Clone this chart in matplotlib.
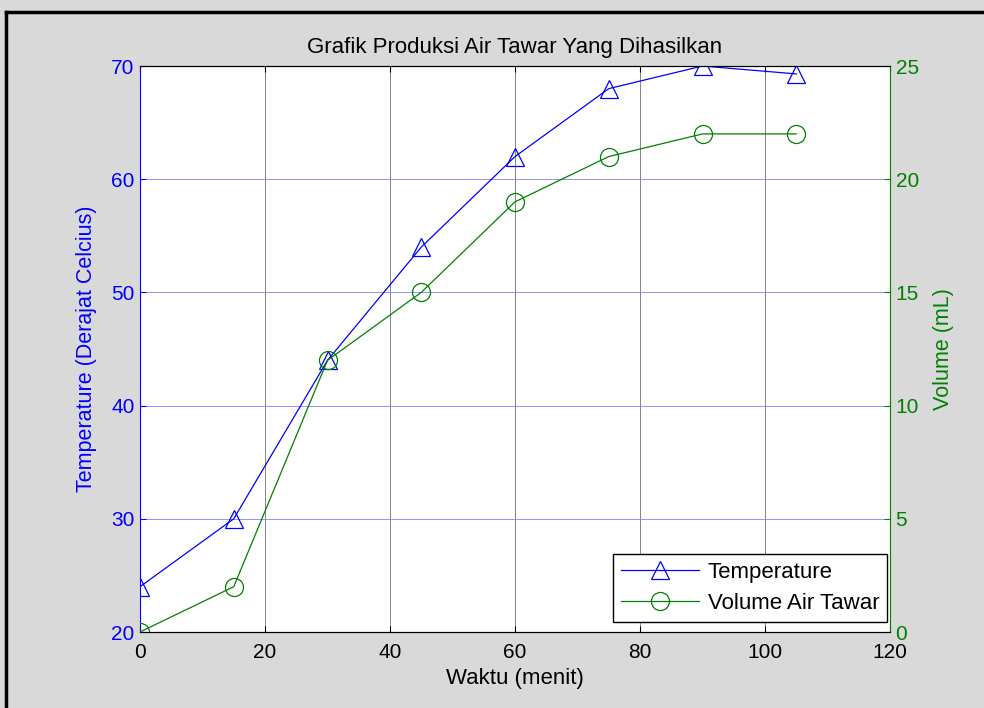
import matplotlib.pyplot as plt

plt.rcParams['font.family'] = ['Liberation Sans', 'DejaVu Sans']

# data
waktu = [0, 15, 30, 45, 60, 75, 90, 105]
temperature = [24, 30, 44, 54, 62, 68, 70, 69.3]
volume = [0, 2, 12, 15, 19, 21, 22, 22]
xticks = [0, 20, 40, 60, 80, 100, 120]
temp_ticks = [20, 30, 40, 50, 60, 70]
vol_ticks = [0, 5, 10, 15, 20, 25]

bg = '#d9d9d9'
fig = plt.figure(figsize=(9.84, 7.08), dpi=100, facecolor=bg)

# black frame of the original figure
fig.add_artist(plt.Line2D([0.006, 0.006], [0, 0.983], color='black', lw=2.5))
fig.add_artist(plt.Line2D([0.006, 1.0], [0.983, 0.983], color='black', lw=2.5))

ax = fig.add_axes([140 / 984, 1 - 632 / 708, 750 / 984, 566 / 708])
ax2 = ax.twinx()
ax.set_zorder(1)
ax2.set_zorder(2)
ax2.patch.set_visible(False)

ax.plot(waktu, temperature, color='blue', lw=0.9, marker='^', ms=13,
        mfc='none', mec='blue', mew=0.9, label='Temperature')
ax2.plot(waktu, volume, color='green', lw=0.9, marker='o', ms=13,
         mfc='none', mec='green', mew=0.9, label='Volume Air Tawar')

ax.set_xlim(0, 120)
ax.set_ylim(20, 70)
ax2.set_ylim(0, 25)
ax.set_xticks(xticks)
ax.set_yticks(temp_ticks)
ax2.set_yticks(vol_ticks)

ax.grid(axis='x', color='#707070', lw=0.6)
ax.grid(axis='y', color='#8080ff', lw=0.6)

ax.tick_params(axis='x', direction='in', top=True, labelsize=15, length=4, pad=8)
ax.tick_params(axis='y', direction='in', colors='blue', labelsize=15, length=4, pad=4)
ax2.tick_params(axis='y', direction='in', colors='green', labelsize=15, length=4, pad=4)
ax.spines['left'].set_color('blue')
ax2.spines['left'].set_visible(False)
ax2.spines['right'].set_color('green')
ax.spines['right'].set_visible(False)

ax.set_xlabel('Waktu (menit)', fontsize=16, labelpad=4)
ax.set_ylabel('Temperature (Derajat Celcius)', fontsize=15.5, color='blue', labelpad=10)
ax2.set_ylabel('Volume (mL)', fontsize=15.5, color='green', labelpad=10)
ax.set_title('Grafik Produksi Air Tawar Yang Dihasilkan', fontsize=16, pad=9)

h1, l1 = ax.get_legend_handles_labels()
h2, l2 = ax2.get_legend_handles_labels()
leg = ax2.legend(h1 + h2, l1 + l2, loc='lower right', fontsize=16,
                 bbox_to_anchor=(887 / 984, 1 - 622 / 708),
                 bbox_transform=fig.transFigure,
                 fancybox=False, edgecolor='black', framealpha=1,
                 handlelength=3.5, handletextpad=0.4, labelspacing=0.45,
                 borderpad=0.35, borderaxespad=0)
leg.get_frame().set_linewidth(1.0)

fig.savefig('out.png', dpi=100, facecolor=bg)
